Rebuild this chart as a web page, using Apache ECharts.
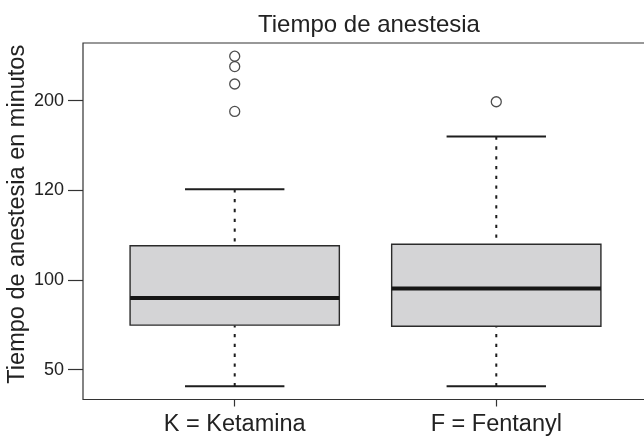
<!DOCTYPE html>
<html>
<head>
<meta charset="utf-8">
<title>Tiempo de anestesia</title>
<script src="https://cdn.jsdelivr.net/npm/echarts@6/dist/echarts.min.js"></script>
<style>
  html, body { margin: 0; padding: 0; background: #fff; }
  #chart { width: 644px; height: 438px; }
</style>
</head>
<body>
<div id="chart"></div>
<script type="text/javascript">
// grupos y resumen de cada caja (minutos)
var groups = ['K = Ketamina', 'F = Fentanyl'];
var groupPos = [1, 2];
var whiskerLow = [40.7, 40.7];
var q1 = [74.8, 74.2];
var median = [89.9, 95.3];
var q3 = [119.1, 119.9];
var whiskerHigh = [150.6, 180];
var outliersK = [194, 209.3, 219, 224.8];
var outliersF = [199.4];

// marcas del eje y tal como salen en la figura
var yTickValues = [50, 100, 150, 200];
var yTickLabels = ['50', '100', '120', '200'];

var font = '"Liberation Sans", Arial, Helvetica, sans-serif';
var boxWidth = 0.8;
var capWidth = 0.38;

// rango como en R: datos +/- 4%
var allVals = whiskerLow.concat(whiskerHigh, outliersK, outliersF);
var yLo = Math.min.apply(null, allVals);
var yHi = Math.max.apply(null, allVals);
var yPad = (yHi - yLo) * 0.04;
var xLo = 0.5 - 0.08, xHi = groups.length + 0.5 + 0.08;

var boxData = groups.map(function (g, i) {
    return [groupPos[i], whiskerLow[i], q1[i], median[i], q3[i], whiskerHigh[i]];
});
var outlierData = outliersK.map(function (v) { return [groupPos[0], v]; })
    .concat(outliersF.map(function (v) { return [groupPos[1], v]; }));

function renderBox(params, api) {
    var x = api.value(0);
    var pLow = api.coord([x, api.value(1)]);
    var pQ1 = api.coord([x, api.value(2)]);
    var pMed = api.coord([x, api.value(3)]);
    var pQ3 = api.coord([x, api.value(4)]);
    var pHigh = api.coord([x, api.value(5)]);
    var hb = api.size([boxWidth, 0])[0] / 2;
    var hc = api.size([capWidth, 0])[0] / 2;
    var dashStyle = { stroke: '#1e1e1e', lineWidth: 2, lineDash: [3.3, 6.5] };
    var solid = { stroke: '#1e1e1e', lineWidth: 2 };
    return {
        type: 'group',
        children: [
            { type: 'line', shape: { x1: pLow[0], y1: pLow[1], x2: pQ1[0], y2: pQ1[1] }, style: dashStyle },
            { type: 'line', shape: { x1: pHigh[0], y1: pHigh[1], x2: pQ3[0], y2: pQ3[1] }, style: dashStyle },
            { type: 'line', shape: { x1: pLow[0] - hc, y1: pLow[1], x2: pLow[0] + hc, y2: pLow[1] }, style: solid },
            { type: 'line', shape: { x1: pHigh[0] - hc, y1: pHigh[1], x2: pHigh[0] + hc, y2: pHigh[1] }, style: solid },
            { type: 'rect', shape: { x: pQ3[0] - hb, y: pQ3[1], width: hb * 2, height: pQ1[1] - pQ3[1] },
              style: { fill: '#d4d4d6', stroke: '#2b2b2b', lineWidth: 1.4 } },
            { type: 'line', shape: { x1: pMed[0] - hb, y1: pMed[1], x2: pMed[0] + hb, y2: pMed[1] },
              style: { stroke: '#161616', lineWidth: 4 } }
        ]
    };
}

var chart = echarts.init(document.getElementById('chart'));
option = {
    animation: false,
    backgroundColor: '#fff',
    title: {
        text: 'Tiempo de anestesia',
        left: 253,
        top: 8,
        textStyle: { fontFamily: font, fontSize: 24, fontWeight: 'normal', color: '#222' }
    },
    grid: {
        left: 83, top: 43, right: -4, bottom: 38.5,
        outerBoundsMode: 'none',
        containLabel: false,
        show: true, borderColor: '#333', borderWidth: 1.2, backgroundColor: 'transparent'
    },
    xAxis: {
        type: 'value',
        min: xLo,
        max: xHi,
        axisLine: { show: false },
        splitLine: { show: false },
        axisTick: { show: true, customValues: groupPos, length: 7, lineStyle: { color: '#333', width: 1.2 } },
        axisLabel: {
            customValues: groupPos,
            margin: 13,
            fontFamily: font, fontSize: 23.5, color: '#222',
            formatter: function (v) { return groups[groupPos.indexOf(v)]; }
        }
    },
    yAxis: {
        type: 'value',
        min: yLo - yPad,
        max: yHi + yPad,
        name: 'Tiempo de anestesia en minutos',
        nameLocation: 'middle',
        nameGap: 53,
        nameMoveOverlap: false,
        nameTextStyle: { fontFamily: font, fontSize: 23.5, color: '#222', padding: [0, 0, 0, 14] },
        axisLine: { show: false },
        splitLine: { show: false },
        axisTick: { show: true, customValues: yTickValues, length: 15, lineStyle: { color: '#333', width: 1.2 } },
        axisLabel: {
            customValues: yTickValues,
            margin: 19,
            fontFamily: font, fontSize: 18, color: '#222',
            formatter: function (v) { return yTickLabels[yTickValues.indexOf(v)]; }
        }
    },
    series: [
        {
            type: 'custom',
            renderItem: renderBox,
            encode: { x: 0, y: [1, 2, 3, 4, 5] },
            data: boxData,
            silent: true
        },
        {
            type: 'scatter',
            symbol: 'circle',
            symbolSize: 10,
            itemStyle: { color: '#fff', borderColor: '#222', borderWidth: 1.3 },
            data: outlierData,
            silent: true
        }
    ]
};
chart.setOption(option);
</script>
</body>
</html>
